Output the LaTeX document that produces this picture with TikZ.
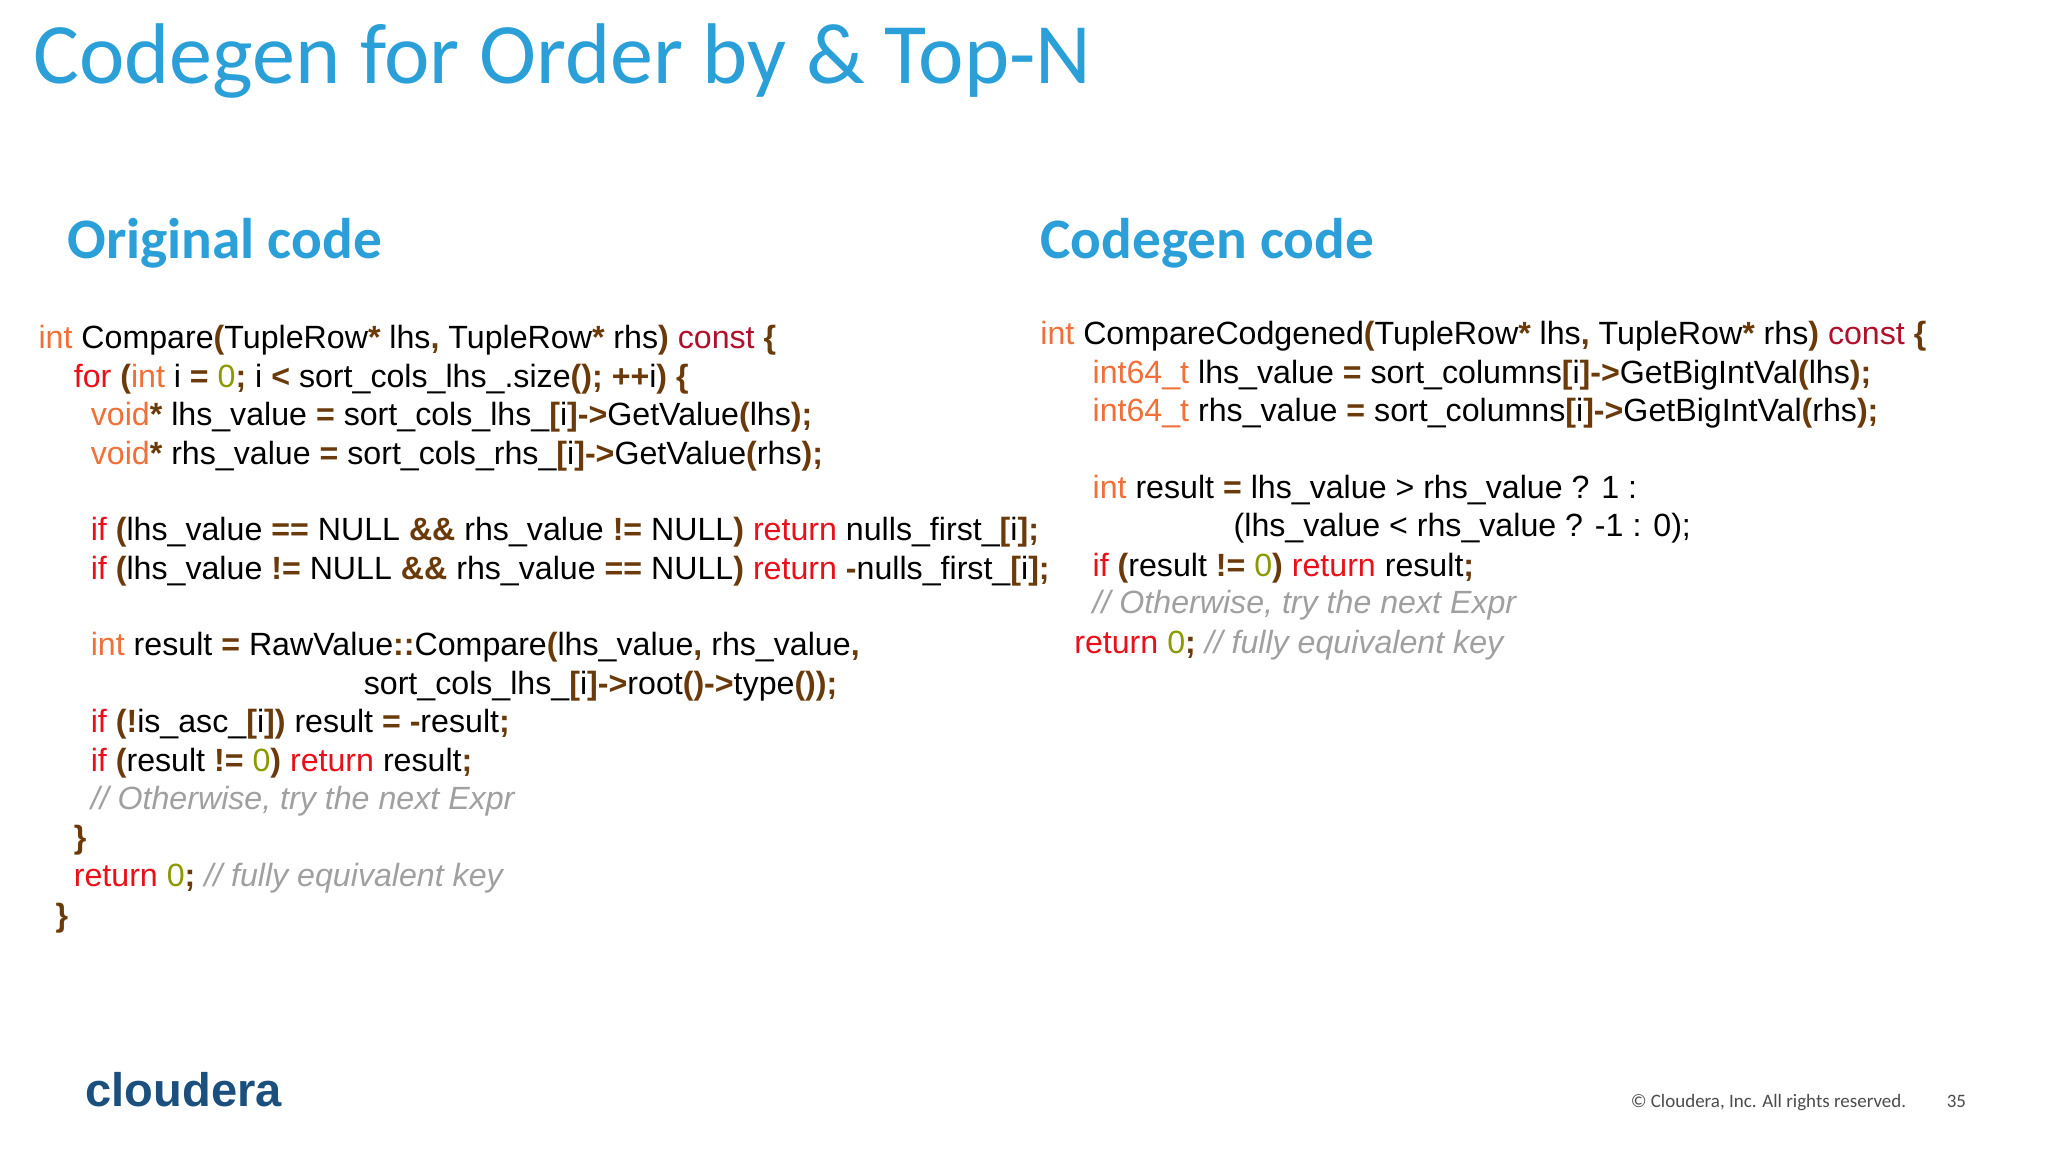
\documentclass[tikz,border=0pt]{standalone}
\usepackage{fontspec}
\setmainfont{Liberation Sans}
\newfontfamily\calfnt{Carlito}
\definecolor{ttl}{HTML}{2A9FD8}
\definecolor{kwc}{HTML}{F0703A}
\definecolor{rtc}{HTML}{E8101A}
\definecolor{cstc}{HTML}{B0102A}
\definecolor{pnc}{HTML}{6B3A0A}
\definecolor{nmc}{HTML}{8A9A00}
\definecolor{cmc}{HTML}{A0A0A0}
\definecolor{logo}{HTML}{1B4F7E}
\newcommand\kw[1]{\textcolor{kwc}{#1}}
\newcommand\rt[1]{\textcolor{rtc}{#1}}
\newcommand\cst[1]{\textcolor{cstc}{#1}}
\newcommand\pn[1]{\textcolor{pnc}{\bfseries #1}}
\newcommand\nm[1]{\textcolor{nmc}{#1}}
\newcommand\cmt[1]{\textcolor{cmc}{\itshape #1}}
\begin{document}
\begin{tikzpicture}[x=0.01306cm,y=-0.01306cm,
  code/.style={anchor=base west,inner sep=0,font=\fontsize{9.15}{11}\selectfont},
  head/.style={anchor=base west,inner sep=0,text=ttl,font=\calfnt\bfseries\fontsize{16.3}{20}\selectfont}]
\useasboundingbox (0,0) rectangle (1568,882);
\fill[white] (0,0) rectangle (1568,882);
\node[anchor=base west,inner sep=0,text=ttl,font=\calfnt\fontsize{24.5}{30}\selectfont] (title) at (25,64) {Codegen for Order by \& Top-N};
\node[head] (h1) at (51,198) {Original code};
\node[head] (h2) at (796,198) {Codegen code};
% left code
\node[code] (l1) at (29,267) {\kw{int} Compare\pn{(}TupleRow\pn{*} lhs\pn{,} TupleRow\pn{*} rhs\pn{)} \cst{const} \pn{\{}};
\node[code] (l2) at (56,297) {\rt{for} \pn{(}\kw{int} i \pn{=} \nm{0}\pn{;} i \pn{<} sort\_cols\_lhs\_.size\pn{();} \pn{++}i\pn{)} \pn{\{}};
\node[code] (l3) at (69,326) {\kw{void}\pn{*} lhs\_value \pn{=} sort\_cols\_lhs\_\pn{[}i\pn{]->}GetValue\pn{(}lhs\pn{);}};
\node[code] (l4) at (69,356) {\kw{void}\pn{*} rhs\_value \pn{=} sort\_cols\_rhs\_\pn{[}i\pn{]->}GetValue\pn{(}rhs\pn{);}};
\node[code] (l5) at (69,414) {\rt{if} \pn{(}lhs\_value \pn{==} NULL \pn{\&\&} rhs\_value \pn{!=} NULL\pn{)} \rt{return} nulls\_first\_\pn{[}i\pn{];}};
\node[code] (l6) at (69,444) {\rt{if} \pn{(}lhs\_value \pn{!=} NULL \pn{\&\&} rhs\_value \pn{==} NULL\pn{)} \rt{return} \pn{-}nulls\_first\_\pn{[}i\pn{];}};
\node[code] (l7) at (69,502) {\kw{int} result \pn{=} RawValue\pn{::}Compare\pn{(}lhs\_value\pn{,} rhs\_value\pn{,}};
\node[code] (l8) at (278,532) {sort\_cols\_lhs\_\pn{[}i\pn{]->}root\pn{()->}type\pn{());}};
\node[code] (l9) at (69,561) {\rt{if} \pn{(!}is\_asc\_\pn{[}i\pn{])} result \pn{=} \pn{-}result\pn{;}};
\node[code] (l10) at (69,591) {\rt{if} \pn{(}result \pn{!=} \nm{0}\pn{)} \rt{return} result\pn{;}};
\node[code] (l11) at (69,620) {\cmt{// Otherwise, try the next Expr}};
\node[code] (l12) at (56,650) {\pn{\}}};
\node[code] (l13) at (56,679) {\rt{return} \nm{0}\pn{;} \cmt{// fully equivalent key}};
\node[code] (l14) at (42,709) {\pn{\}}};
% right code
\node[code] (r1) at (796,264) {\kw{int} CompareCodgened\pn{(}TupleRow\pn{*} lhs\pn{,} TupleRow\pn{*} rhs\pn{)} \cst{const} \pn{\{}};
\node[code] (r2) at (836,294) {\kw{int64\_t} lhs\_value \pn{=} sort\_columns\pn{[}i\pn{]->}GetBigIntVal\pn{(}lhs\pn{);}};
\node[code] (r3) at (836,323) {\kw{int64\_t} rhs\_value \pn{=} sort\_columns\pn{[}i\pn{]->}GetBigIntVal\pn{(}rhs\pn{);}};
\node[code] (r4) at (836,382) {\kw{int} result \pn{=} lhs\_value > rhs\_value ? 1 :};
\node[code] (r5) at (944,411) {(lhs\_value < rhs\_value ? -1 : 0);};
\node[code] (r6) at (836,441) {\rt{if} \pn{(}result \pn{!=} \nm{0}\pn{)} \rt{return} result\pn{;}};
\node[code] (r7) at (836,470) {\cmt{// Otherwise, try the next Expr}};
\node[code] (r8) at (822,500) {\rt{return} \nm{0}\pn{;} \cmt{// fully equivalent key}};
% footer
\node[anchor=base west,inner sep=0,text=logo,font=\bfseries\fontsize{13.4}{16}\selectfont] (logo) at (65,847) {cloudera};
\node[anchor=base west,inner sep=0,text=black!70,font=\calfnt\fontsize{5.4}{7}\selectfont] (copy) at (1248,848) {© Cloudera, Inc. All rights reserved.};
\node[anchor=base west,inner sep=0,text=black!70,font=\calfnt\fontsize{5.4}{7}\selectfont] (pg) at (1490,848) {35};
\end{tikzpicture}
\end{document}
